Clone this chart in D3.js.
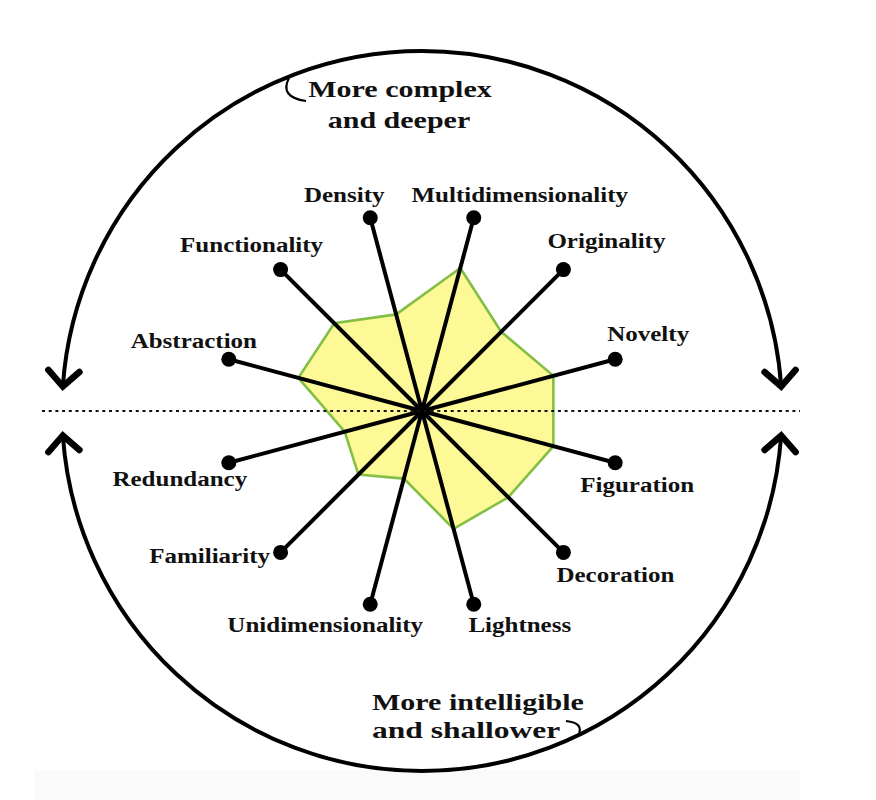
<!DOCTYPE html>
<html>
<head>
<meta charset="utf-8">
<script src="https://cdn.jsdelivr.net/npm/d3@7"></script>
<style>
  html, body { margin: 0; padding: 0; background: #fff; }
  svg { display: block; }
  text { font-family: "Liberation Serif", "Times New Roman", serif; font-weight: bold; fill: #111; }
</style>
</head>
<body>
<svg id="chart" width="876" height="800"></svg>
<script>
// ---- data ----
const dimensions = ["Multidimensionality", "Originality", "Novelty", "Figuration", "Decoration", "Lightness",
                    "Unidimensionality", "Familiarity", "Redundancy", "Abstraction", "Functionality", "Density"];
const scores = [7.4, 5.6, 6.8, 6.8, 6.1, 6.1, 3.5, 4.5, 4.0, 6.4, 6.2, 5.0];
const maxScore = 10;
const topCaption = ["More complex", "and deeper"];
const bottomCaption = ["More intelligible", "and shallower"];

// ---- layout ----
const W = 876, H = 800;
const cx = 422, cy = 411;
const spokeR = 200, ringR = 360;
const labelOffsets = [[46,-16],[43,-22],[33,-18],[22,29],[52,30],[46,28],
                      [-45,28],[-71,11],[-49,23],[-35,-11],[-29,-18],[-26,-16]];
const stretch = 1.25;

const svg = d3.select("#chart");
svg.append("rect").attr("x", 35).attr("y", 770).attr("width", 765).attr("height", 30).attr("fill", "#fafafa");

const g = svg.append("g").attr("transform", `translate(${cx},${cy})`);

const rScale = d3.scaleLinear().domain([0, maxScore]).range([0, spokeR]);
const aScale = d3.scaleLinear().domain([0, dimensions.length]).range([Math.PI / 12, Math.PI / 12 + 2 * Math.PI]);
const pt = (a, r) => [r * Math.sin(a), -r * Math.cos(a)];

// polygon
const radial = d3.lineRadial()
  .angle((d, i) => aScale(i))
  .radius(d => rScale(d))
  .curve(d3.curveLinearClosed);
g.append("path").attr("d", radial(scores))
  .attr("fill", "#fdf996").attr("stroke", "#84bf45").attr("stroke-width", 2.6)
  .attr("stroke-linejoin", "miter");

// dotted horizon
svg.append("line").attr("x1", 42).attr("x2", 800).attr("y1", cy).attr("y2", cy)
  .attr("stroke", "#111").attr("stroke-width", 2.2).attr("stroke-dasharray", "3,3.7");

// spokes
dimensions.forEach((d, i) => {
  const [x, y] = pt(aScale(i), spokeR);
  g.append("line").attr("x1", 0).attr("y1", 0).attr("x2", x).attr("y2", y)
    .attr("stroke", "#000").attr("stroke-width", 4);
  g.append("circle").attr("cx", x).attr("cy", y).attr("r", 7.5).attr("fill", "#000");
  const [ox, oy] = labelOffsets[i];
  g.append("text").attr("transform", `translate(${x + ox},${y + oy}) scale(${stretch},1)`)
    .attr("text-anchor", "middle").attr("font-size", 20).text(d);
});
g.append("circle").attr("r", 7).attr("fill", "#000");

// outer arcs with chevrons
const gap = 3.9 * Math.PI / 180;
const half = Math.PI / 2;
function arcPath(a0, a1) {
  const p = d3.path();
  p.arc(0, 0, ringR, a0 - half, a1 - half, a1 < a0);
  return p.toString();
}
function chevron(a, dir) {
  const [tx, ty] = pt(a, ringR);
  const dx = dir * Math.cos(a), dy = dir * Math.sin(a);
  const L = 22;
  const arm = s => {
    const c = Math.cos(s * 3 * Math.PI / 4), sn = Math.sin(s * 3 * Math.PI / 4);
    return [tx + L * (dx * c - dy * sn), ty + L * (dx * sn + dy * c)];
  };
  const p1 = arm(1), p2 = arm(-1);
  g.append("path").attr("d", `M${p1[0]},${p1[1]}L${tx},${ty}L${p2[0]},${p2[1]}`)
    .attr("fill", "none").attr("stroke", "#000").attr("stroke-width", 6.5)
    .attr("stroke-linejoin", "miter").attr("stroke-linecap", "round");
}
g.append("path").attr("d", arcPath(-half + gap, half - gap))
  .attr("fill", "none").attr("stroke", "#000").attr("stroke-width", 4);
chevron(-half + gap, -1);
chevron(half - gap, 1);
g.append("path").attr("d", arcPath(half + gap, 3 * half - gap))
  .attr("fill", "none").attr("stroke", "#000").attr("stroke-width", 4);
chevron(half + gap, -1);
chevron(3 * half - gap, 1);

// captions
svg.append("text").attr("transform", `translate(400,97) scale(${stretch},1)`)
  .attr("text-anchor", "middle").attr("font-size", 24).text(topCaption[0]);
svg.append("text").attr("transform", `translate(399,128) scale(${stretch},1)`)
  .attr("text-anchor", "middle").attr("font-size", 24).text(topCaption[1]);
svg.append("text").attr("transform", `translate(372,710) scale(${stretch},1)`)
  .attr("text-anchor", "start").attr("font-size", 24).text(bottomCaption[0]);
svg.append("text").attr("transform", `translate(372,738) scale(${stretch * 1.05},1)`)
  .attr("text-anchor", "start").attr("font-size", 24).text(bottomCaption[1]);

// hooks joining captions to arcs
svg.append("path").attr("d", "M289,78 Q279,97 306,101")
  .attr("fill", "none").attr("stroke", "#000").attr("stroke-width", 2.2);
svg.append("path").attr("d", "M566,721 Q585,723 578,736")
  .attr("fill", "none").attr("stroke", "#000").attr("stroke-width", 2.2);
</script>
</body>
</html>
